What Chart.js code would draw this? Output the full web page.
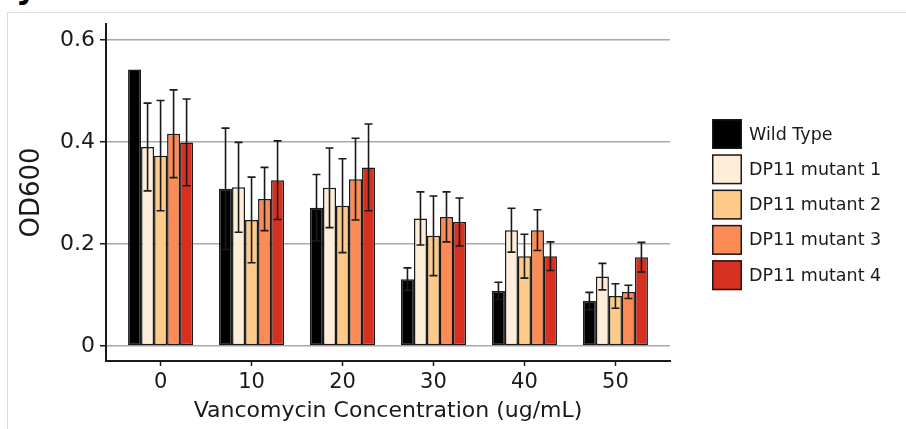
<!DOCTYPE html>
<html>
<head>
<meta charset="utf-8">
<script src="https://cdn.jsdelivr.net/npm/chart.js@4/dist/chart.umd.min.js"></script>
<style>
  html, body { margin: 0; padding: 0; background: #fff; }
  #wrap { position: relative; width: 906px; height: 429px; overflow: hidden; }
  #frame { position: absolute; left: 7px; top: 12px; right: 0; bottom: 0;
           border-left: 1px solid #dcdcdc; border-top: 1px solid #dcdcdc; }
  #tag { position: absolute; left: 16px; top: -29px; font: bold 32px/32px "DejaVu Sans"; color: #000; }
  canvas { position: absolute; left: 0; top: 0; }
</style>
</head>
<body>
<div id="wrap">
  <div id="frame"></div>
  <div id="tag">y</div>
  <canvas id="odChart" width="906" height="429"></canvas>
</div>
<script>
// vancomycin concentrations (ug/mL) and OD600 readings
const concentrations = [0, 10, 20, 30, 40, 50];
const yTicks = [0, 0.2, 0.4, 0.6];

const seriesNames = ['Wild Type', 'DP11 mutant 1', 'DP11 mutant 2', 'DP11 mutant 3', 'DP11 mutant 4'];

const wildType    = [0.542, 0.308, 0.271, 0.131, 0.108, 0.088];
const wildTypeErr = [0.000, 0.119, 0.065, 0.022, 0.017, 0.017];
const mutant1     = [0.390, 0.311, 0.310, 0.250, 0.227, 0.136];
const mutant1Err  = [0.086, 0.088, 0.078, 0.052, 0.043, 0.026];
const mutant2     = [0.373, 0.247, 0.275, 0.216, 0.176, 0.098];
const mutant2Err  = [0.108, 0.084, 0.092, 0.078, 0.043, 0.024];
const mutant3     = [0.416, 0.288, 0.327, 0.253, 0.227, 0.106];
const mutant3Err  = [0.086, 0.062, 0.080, 0.049, 0.040, 0.013];
const mutant4     = [0.399, 0.325, 0.350, 0.243, 0.176, 0.174];
const mutant4Err  = [0.085, 0.077, 0.085, 0.047, 0.028, 0.029];

const colors = ['#000000', '#feeed9', '#fdca89', '#fc8b56', '#d83020'];

const values = [wildType, mutant1, mutant2, mutant3, mutant4];
const errors = [wildTypeErr, mutant1Err, mutant2Err, mutant3Err, mutant4Err];

const FONT = 'DejaVu Sans';
const INK = '#1a1a1a';

const datasets = values.map((vals, i) => ({
  label: seriesNames[i],
  data: vals.map((v, j) => ({ x: concentrations[j], y: v })),
  err: errors[i],
  backgroundColor: colors[i],
  borderColor: '#1a1a1a',
  borderWidth: 1.5,
  borderSkipped: false,
  categoryPercentage: 0.715,
  barPercentage: 1.0
}));

// error bars drawn on top of the bars
const errorBars = {
  id: 'errorBars',
  afterDatasetsDraw(chart) {
    const ctx = chart.ctx;
    const y = chart.scales.y;
    ctx.save();
    ctx.strokeStyle = '#1a1a1a';
    ctx.lineWidth = 1.6;
    chart.data.datasets.forEach((ds, i) => {
      const meta = chart.getDatasetMeta(i);
      meta.data.forEach((bar, j) => {
        const e = ds.err[j];
        if (!e) return;
        const v = ds.data[j].y;
        const top = y.getPixelForValue(v + e);
        const bot = y.getPixelForValue(v - e);
        const cap = 4;
        ctx.beginPath();
        ctx.moveTo(bar.x, top); ctx.lineTo(bar.x, bot);
        ctx.moveTo(bar.x - cap, top); ctx.lineTo(bar.x + cap, top);
        ctx.moveTo(bar.x - cap, bot); ctx.lineTo(bar.x + cap, bot);
        ctx.stroke();
      });
    });
    ctx.restore();
  }
};

// legend on the right, matplotlib style
const sideLegend = {
  id: 'sideLegend',
  afterDraw(chart) {
    const ctx = chart.ctx;
    const x0 = 712, y0 = 119, box = 30, step = 35.3;
    ctx.save();
    ctx.font = '17.5px "' + FONT + '"';
    ctx.textBaseline = 'middle';
    ctx.textAlign = 'left';
    chart.data.datasets.forEach((ds, i) => {
      const top = y0 + i * step;
      ctx.fillStyle = ds.backgroundColor;
      ctx.fillRect(x0, top, box, box);
      ctx.strokeStyle = '#1a1a1a';
      ctx.lineWidth = 1.5;
      ctx.strokeRect(x0 + 0.75, top + 0.75, box - 1.5, box - 1.5);
      ctx.fillStyle = INK;
      ctx.fillText(ds.label, 749, top + box / 2 + 1);
    });
    ctx.restore();
  }
};

new Chart(document.getElementById('odChart'), {
  type: 'bar',
  data: { datasets },
  plugins: [errorBars, sideLegend],
  options: {
    responsive: false,
    animation: false,
    devicePixelRatio: 1,
    layout: { padding: { left: 0, top: 24, right: 236, bottom: 0 } },
    plugins: { legend: { display: false }, tooltip: { enabled: false } },
    scales: {
      x: {
        type: 'linear',
        min: -6,
        max: 56,
        offset: false,
        afterBuildTicks: s => { s.ticks = concentrations.map(v => ({ value: v })); },
        afterFit: s => { s.height = 68; },
        grid: { offset: false, drawOnChartArea: false, drawTicks: true, tickLength: 5, tickColor: INK, tickWidth: 1.5 },
        border: { display: true, color: INK, width: 2 },
        ticks: { color: INK, padding: 4, font: { family: FONT, size: 21 }, maxRotation: 0 },
        title: { display: true, text: 'Vancomycin Concentration (ug/mL)', color: INK,
                 font: { family: FONT, size: 22 }, padding: { top: 0, bottom: 5 } }
      },
      y: {
        min: -0.0294,
        max: 0.631,
        afterBuildTicks: s => { s.ticks = yTicks.map(v => ({ value: v })); },
        afterFit: s => { s.width = 106; },
        grid: { color: '#a8a8a8', lineWidth: 1.5, drawTicks: true, tickLength: 6, tickColor: INK, tickWidth: 1.5 },
        border: { display: true, color: INK, width: 2 },
        ticks: { color: INK, padding: 5, font: { family: FONT, size: 22 },
                 callback: v => v === 0 ? '0' : v.toFixed(1) },
        title: { display: true, text: 'OD600', color: INK,
                 font: { family: FONT, size: 26 }, padding: { top: 17, bottom: 0 } }
      }
    }
  }
});
</script>
</body>
</html>
